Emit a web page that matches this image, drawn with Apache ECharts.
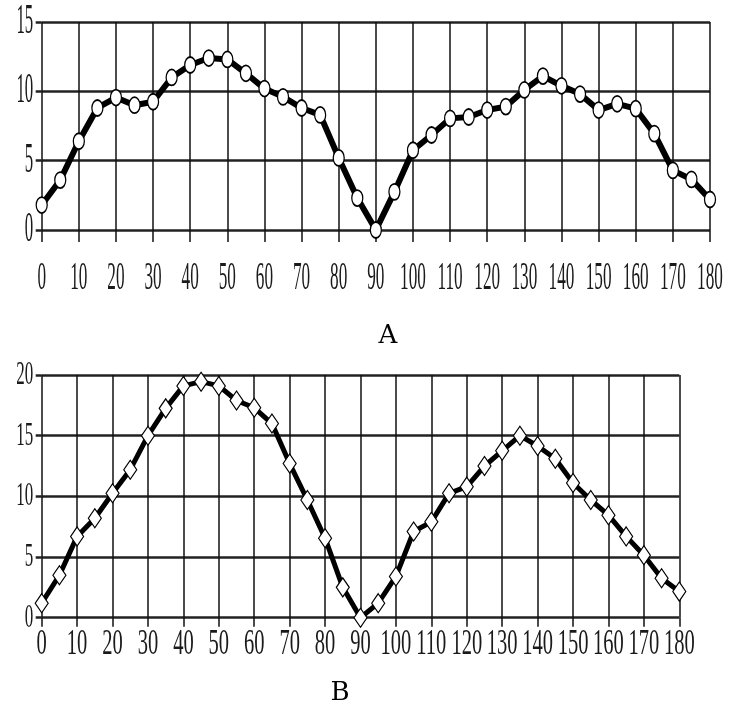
<!DOCTYPE html>
<html>
<head>
<meta charset="utf-8">
<script src="https://cdn.jsdelivr.net/npm/echarts@6/dist/echarts.min.js"></script>
<style>
html,body{margin:0;padding:0;background:#fff;}
#main{width:734px;height:711px;}
</style>
</head>
<body>
<div id="main"></div>
<script>
// ---- data ----
var xValues = [0,5,10,15,20,25,30,35,40,45,50,55,60,65,70,75,80,85,90,95,100,105,110,115,120,125,130,135,140,145,150,155,160,165,170,175,180];
var seriesA = [1.8,3.6,6.4,8.8,9.55,9.0,9.25,11.0,11.9,12.4,12.3,11.3,10.2,9.6,8.8,8.3,5.2,2.3,0.0,2.75,5.75,6.85,8.05,8.15,8.65,8.9,10.1,11.1,10.4,9.8,8.65,9.1,8.75,6.95,4.3,3.65,2.2];
var seriesB = [1.2,3.5,6.7,8.2,10.25,12.2,15.0,17.25,19.1,19.45,19.1,17.9,17.3,16.0,12.7,9.7,6.55,2.5,0.0,1.2,3.4,7.1,7.9,10.25,10.8,12.5,13.75,15.0,14.15,13.1,11.1,9.7,8.45,6.7,5.15,3.25,2.15];
var xTickLabels = ['0','10','20','30','40','50','60','70','80','90','100','110','120','130','140','150','160','170','180'];
var yTickLabelsA = ['0','5','10','15'];
var yTickLabelsB = ['0','5','10','15','20'];
var panelTitles = ['A','B'];

function pairs(vals){ return xValues.map(function(x,i){ return [x, vals[i]]; }); }

var chart = echarts.init(document.getElementById('main'), null, {renderer:'canvas'});

function xAxisCfg(grid, tickLen){
  return {
    type:'value', gridIndex:grid, min:0, max:180, interval:10,
    axisLine:{show:false},
    axisTick:{show:true, length:tickLen, lineStyle:{color:'#111', width:1.5}},
    axisLabel:{show:false},
    splitLine:{show:true, lineStyle:{color:'#111', width:1.5}}
  };
}
function yAxisCfg(grid, max){
  return {
    type:'value', gridIndex:grid, min:0, max:max, interval:5,
    axisLine:{show:false},
    axisTick:{show:true, length:6, lineStyle:{color:'#222', width:2.5}},
    axisLabel:{show:false},
    splitLine:{show:true, lineStyle:{color:'#222', width:2.5}}
  };
}

chart.setOption({
  animation:false,
  backgroundColor:'#fff',
  grid:[
    {left:41.7, right:24, top:22, bottom:481},
    {left:41.7, right:54.7, top:375, bottom:93.3}
  ],
  xAxis:[xAxisCfg(0,12), xAxisCfg(1,9)],
  yAxis:[yAxisCfg(0,15), yAxisCfg(1,20)],
  series:[
    {type:'line', xAxisIndex:0, yAxisIndex:0, data:pairs(seriesA),
     symbol:'circle', symbolSize:[11,16],
     lineStyle:{color:'#000', width:6},
     itemStyle:{color:'#fff', borderColor:'#000', borderWidth:1.5}, z:3},
    {type:'line', xAxisIndex:1, yAxisIndex:1, data:pairs(seriesB),
     symbol:'diamond', symbolSize:[13,19],
     lineStyle:{color:'#000', width:5},
     itemStyle:{color:'#fff', borderColor:'#000', borderWidth:1.2}, z:3}
  ]
});

// condensed tick labels, positioned through the axes' own scales
var g = [];
var labelFill = '#1a1a1a';
function addXLabels(gridIdx, fontSize, sx, dy){
  xTickLabels.forEach(function(t){
    var p = chart.convertToPixel({gridIndex:gridIdx}, [Number(t), 0]);
    g.push({type:'text', x:p[0], y:p[1]+dy, scaleX:sx, silent:true,
      style:{text:t, fontFamily:'Liberation Serif', fontSize:fontSize, fill:labelFill, align:'center', verticalAlign:'middle'}});
  });
}
function addYLabels(gridIdx, labels, fontSize, sx){
  labels.forEach(function(t){
    var p = chart.convertToPixel({gridIndex:gridIdx}, [0, Number(t)]);
    g.push({type:'text', x:p[0]-8.5, y:p[1], scaleX:sx, silent:true,
      style:{text:t, fontFamily:'Liberation Serif', fontSize:fontSize, fill:labelFill, align:'right', verticalAlign:'middle'}});
  });
}
addXLabels(0, 41, 0.42, 48);
addYLabels(0, yTickLabelsA, 42, 0.4);
addXLabels(1, 36, 0.57, 27);
addYLabels(1, yTickLabelsB, 34, 0.5);

g.push({type:'text', x:388, y:336, silent:true,
  style:{text:panelTitles[0], fontFamily:'DejaVu Serif', fontSize:26, fill:'#000', align:'center', verticalAlign:'middle'}});
g.push({type:'text', x:340, y:693, silent:true,
  style:{text:panelTitles[1], fontFamily:'DejaVu Serif', fontSize:26, fill:'#000', align:'center', verticalAlign:'middle'}});

chart.setOption({graphic:g});
</script>
</body>
</html>
